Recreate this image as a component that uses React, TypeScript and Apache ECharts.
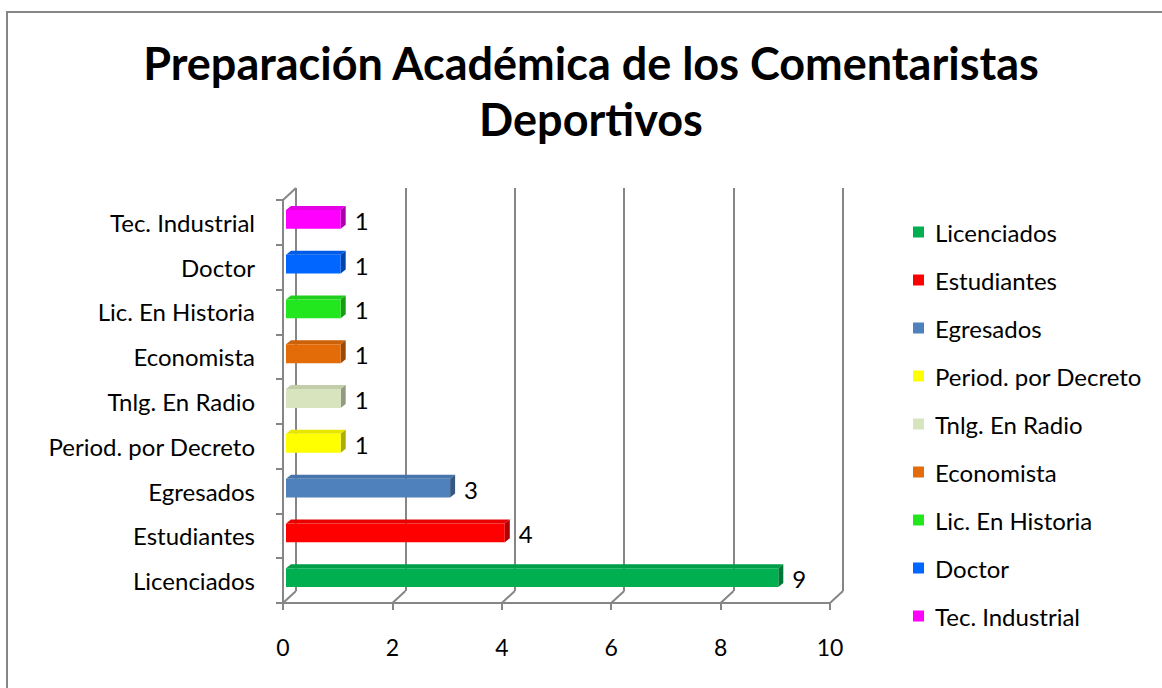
import React, { useEffect, useRef } from "react";
import * as echarts from "echarts";

const categories = [
  "Licenciados",
  "Estudiantes",
  "Egresados",
  "Period. por Decreto",
  "Tnlg. En Radio",
  "Economista",
  "Lic. En Historia",
  "Doctor",
  "Tec. Industrial",
];
const values = [9, 4, 3, 1, 1, 1, 1, 1, 1];
const colors = [
  "#00B050",
  "#FF0000",
  "#4F81BD",
  "#FFFF00",
  "#D7E4BD",
  "#E36C09",
  "#22E61E",
  "#0066FF",
  "#FF00FF",
];
const xTicks = [0, 2, 4, 6, 8, 10];
const titleText = "Preparación Académica de los Comentaristas\nDeportivos";

const FONT = "Lato";
const GRID = { left: 283, top: 200, width: 547, height: 403 };
const DEPTH = { dx: 13, dy: -12 };
const LINE = "#868686";

function shade(col: string, f: number) {
  const n = parseInt(col.slice(1), 16);
  const r = Math.round(((n >> 16) & 255) * f);
  const g = Math.round(((n >> 8) & 255) * f);
  const b = Math.round((n & 255) * f);
  return `rgb(${r},${g},${b})`;
}

export default function App() {
  const ref = useRef<HTMLDivElement>(null);
  useEffect(() => {
    document.body.style.margin = "0";
    const chart = echarts.init(ref.current!, null, { renderer: "svg" });
    const series = categories.map((name, i) => ({
      type: "custom",
      name,
      xAxisIndex: 0,
      yAxisIndex: 0,
      itemStyle: { color: colors[i] },
      data: [[values[i], i]],
      encode: { x: 0, y: 1 },
      z: 5,
      renderItem: (params: any, api: any) => {
        const v = api.value(0);
        const c = api.value(1);
        const p0 = api.coord([0, c]);
        const p1 = api.coord([v, c]);
        const band = api.size([0, 1])[1];
        const h = band * 0.42;
        const x0 = p0[0] + 3;
        const x1 = p1[0] + 3;
        const yc = p0[1] - 3;
        const y0 = yc - h / 2;
        const y1 = yc + h / 2;
        const dx = 5;
        const dy = -4;
        const col = colors[i];
        return {
          type: "group",
          children: [
            {
              type: "polygon",
              shape: { points: [[x0, y0], [x1, y0], [x1 + dx, y0 + dy], [x0 + dx, y0 + dy]] },
              style: { fill: shade(col, 0.9) },
            },
            {
              type: "polygon",
              shape: { points: [[x1, y0], [x1 + dx, y0 + dy], [x1 + dx, y1 + dy], [x1, y1]] },
              style: { fill: shade(col, 0.68) },
            },
            {
              type: "rect",
              shape: { x: x0, y: y0, width: x1 - x0, height: h },
              style: { fill: col },
            },
            {
              type: "text",
              x: x1 + dx + 9,
              y: yc + 1,
              style: {
                text: String(v),
                fill: "#000",
                font: `24px ${FONT}`,
                align: "left",
                verticalAlign: "middle",
              },
            },
          ],
        };
      },
    }));

    chart.setOption({
      animation: false,
      backgroundColor: "#fff",
      title: {
        text: titleText,
        left: 591,
        textAlign: "center",
        top: 35,
        padding: 0,
        textStyle: {
          fontFamily: FONT,
          fontSize: 45,
          fontWeight: "bold",
          color: "#000",
          lineHeight: 56,
        },
      },
      legend: {
        orient: "vertical",
        left: 913,
        top: 220,
        padding: 0,
        itemWidth: 11,
        itemHeight: 11,
        itemGap: 24,
        icon: "rect",
        selectedMode: false,
        data: categories,
        textStyle: {
          fontFamily: FONT,
          fontSize: 24,
          color: "#000",
          lineHeight: 24,
          padding: [0, 0, 0, 6],
        },
      },
      grid: [
        { left: GRID.left, top: GRID.top, width: GRID.width, height: GRID.height },
        {
          left: GRID.left + DEPTH.dx,
          top: GRID.top + DEPTH.dy,
          width: GRID.width,
          height: GRID.height,
        },
      ],
      xAxis: [
        {
          gridIndex: 0,
          type: "value",
          min: 0,
          max: 10,
          interval: 2,
          axisLine: { show: true, lineStyle: { color: LINE, width: 2 } },
          axisTick: { show: true, length: 7, lineStyle: { color: LINE, width: 2 } },
          splitLine: { show: false },
          axisLabel: { fontFamily: FONT, fontSize: 23, color: "#000", margin: 32 },
        },
        {
          gridIndex: 1,
          type: "value",
          min: 0,
          max: 10,
          interval: 2,
          axisLine: { show: false },
          axisTick: { show: false },
          axisLabel: { show: false },
          splitLine: { show: true, lineStyle: { color: LINE, width: 2 } },
        },
      ],
      yAxis: [
        {
          gridIndex: 0,
          type: "category",
          data: categories,
          axisLine: { show: true, lineStyle: { color: LINE, width: 2 } },
          axisTick: { show: true, length: 7, lineStyle: { color: LINE, width: 2 } },
          splitLine: { show: false },
          axisLabel: { fontFamily: FONT, fontSize: 24, color: "#000", margin: 28 },
        },
        {
          gridIndex: 1,
          type: "category",
          data: categories,
          axisLine: { show: false },
          axisTick: { show: false },
          axisLabel: { show: false },
          splitLine: { show: false },
        },
      ],
      series,
    });

    const bottomY = chart.convertToPixel({ yAxisIndex: 0 }, categories[0]) as number;
    const bandPx = Math.abs(
      (chart.convertToPixel({ yAxisIndex: 0 }, categories[1]) as number) - bottomY
    );
    const yBottom = bottomY + bandPx / 2;
    const yTop =
      (chart.convertToPixel({ yAxisIndex: 0 }, categories[categories.length - 1]) as number) -
      bandPx / 2;
    const x0 = chart.convertToPixel({ xAxisIndex: 0 }, 0) as number;
    const diagonals = xTicks.map((t) => {
      const x = chart.convertToPixel({ xAxisIndex: 0 }, t) as number;
      return {
        type: "line",
        shape: { x1: x, y1: yBottom, x2: x + DEPTH.dx, y2: yBottom + DEPTH.dy },
        style: { stroke: LINE, lineWidth: 2 },
        z: 1,
      };
    });
    chart.setOption({
      graphic: [
        {
          type: "rect",
          shape: { x: 7, y: 12, width: 1200, height: 720 },
          style: { fill: "none", stroke: LINE, lineWidth: 2 },
          z: 0,
        },
        ...diagonals,
        {
          type: "line",
          shape: { x1: x0, y1: yTop, x2: x0 + DEPTH.dx, y2: yTop + DEPTH.dy },
          style: { stroke: LINE, lineWidth: 2 },
          z: 1,
        },
      ],
    });

    return () => chart.dispose();
  }, []);
  return <div ref={ref} style={{ width: 1162, height: 688 }} />;
}
